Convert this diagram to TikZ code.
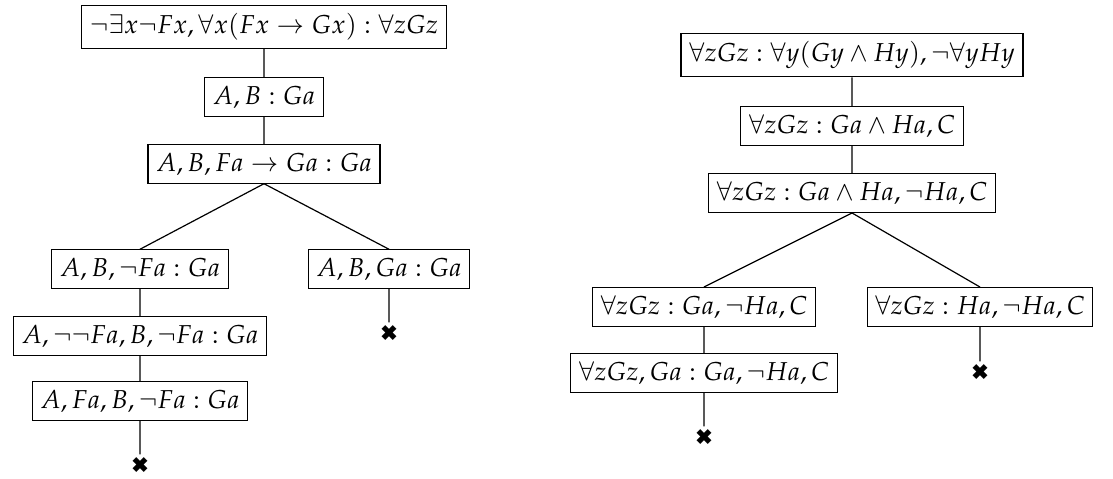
\documentclass[tikz,border=0pt]{standalone}
\usepackage{amsmath,amssymb}
\usepackage{mathpazo}
\usepackage{pifont}
\usepackage{tikz}
\usetikzlibrary{positioning, calc}

\tikzset{
    seq/.style={draw, line width=0.5pt, fill=white, font=\fontsize{10.8}{13}\selectfont},
    closed/.style={inner sep=1pt, font=\small},
}

\begin{document}
\begin{tikzpicture}[x=0.4167pt, y=-0.4167pt, line width=0.5pt]
    \useasboundingbox (0,0) rectangle (1113,479);

    % left tree
    \node[seq] (l1) at (264,27) {$\neg\exists x\neg Fx, \forall x(Fx \to Gx) : \forall zGz$};
    \node[seq] (l2) at (264,97) {$A, B : Ga$};
    \node[seq] (l3) at (264,164) {$A, B, Fa \to Ga : Ga$};
    \node[seq] (l4) at (140,269) {$A, B, \neg Fa : Ga$};
    \node[seq] (l5) at (389,269) {$A, B, Ga : Ga$};
    \node[seq] (l6) at (140,336) {$A, \neg\neg Fa, B, \neg Fa : Ga$};
    \node[seq] (l7) at (140,401) {$A, Fa, B, \neg Fa : Ga$};
    \node[closed] (lx1) at (140,465) {\ding{54}};
    \node[closed] (lx2) at (389,333) {\ding{54}};

    \path[draw]
    (l1.south) -- (l2.north)
    (l2.south) -- (l3.north)
    (l3.south) -- (l4.north)
    (l3.south) -- (l5.north)
    (l4.south) -- (l6.north)
    (l6.south) -- (l7.north)
    (l7.south) -- (lx1.north)
    (l5.south) -- (lx2.north)
    ;

    % right tree
    \node[seq] (r1) at (852,55) {$\forall zGz : \forall y(Gy \wedge Hy), \neg\forall yHy$};
    \node[seq] (r2) at (852,126) {$\forall zGz : Ga \wedge Ha, C$};
    \node[seq] (r3) at (852,193) {$\forall zGz : Ga \wedge Ha, \neg Ha, C$};
    \node[seq] (r4) at (704,307) {$\forall zGz : Ga, \neg Ha, C$};
    \node[seq] (r5) at (980,307) {$\forall zGz : Ha, \neg Ha, C$};
    \node[seq] (r6) at (704,373) {$\forall zGz, Ga : Ga, \neg Ha, C$};
    \node[closed] (rx1) at (704,437) {\ding{54}};
    \node[closed] (rx2) at (980,372) {\ding{54}};

    \path[draw]
    (r1.south) -- (r2.north)
    (r2.south) -- (r3.north)
    (r3.south) -- (r4.north)
    (r3.south) -- (r5.north)
    (r4.south) -- (r6.north)
    (r6.south) -- (rx1.north)
    (r5.south) -- (rx2.north)
    ;
\end{tikzpicture}
\end{document}
